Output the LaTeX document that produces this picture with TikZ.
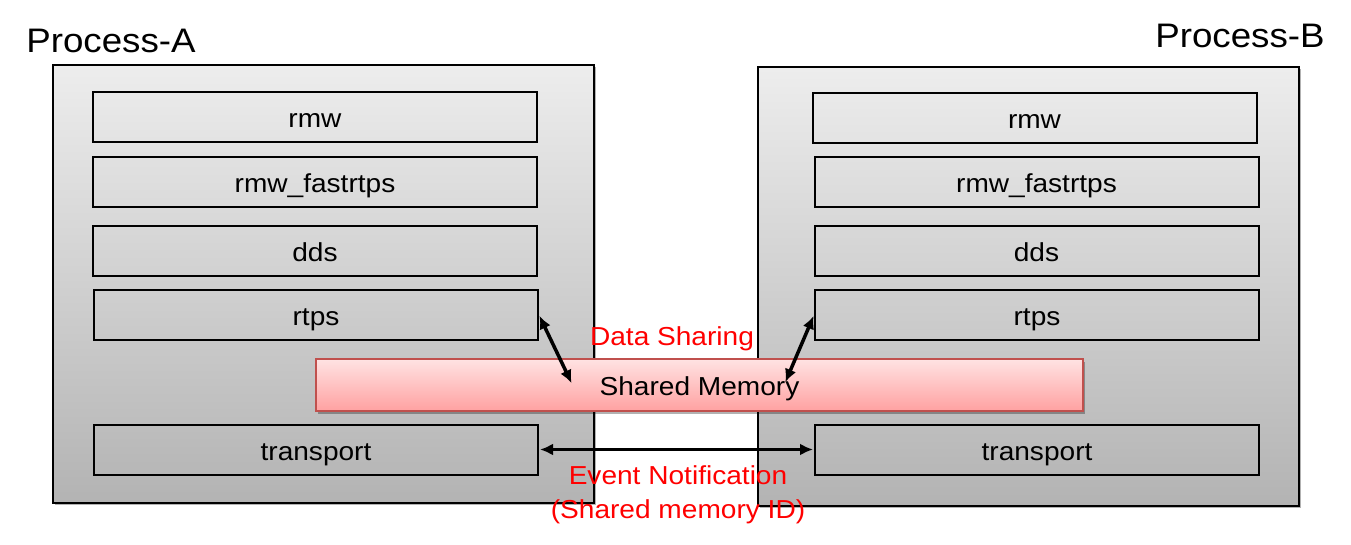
\documentclass[tikz,border=0pt]{standalone}
\usepackage{fontspec}
\setmainfont{Liberation Sans}[FakeStretch=1.08]
\usepackage{xcolor}
\usepackage{tikz}
\usetikzlibrary{arrows.meta}
\usetikzlibrary{shapes}
\usetikzlibrary{shadows}

\definecolor{proctop}{HTML}{EDEDED}
\definecolor{procbot}{HTML}{B3B3B3}
\definecolor{shmtop}{HTML}{FFE3E3}
\definecolor{shmbot}{HTML}{FFA1A1}
\definecolor{shmline}{HTML}{C0504D}

\tikzset{
    process/.style = {draw, line width = 2pt, top color = proctop, bottom color = procbot,
        minimum width = 541pt, minimum height = 438pt, inner sep = 0pt,
        drop shadow = {shadow xshift = 2pt, shadow yshift = -2pt, opacity = 0.3, fill = black}},
    layer/.style = {draw, line width = 2pt, minimum width = 444pt, minimum height = 50pt,
        inner sep = 0pt, text height = 26pt, text depth = 5pt,
        font = \fontsize{26}{31}\selectfont},
    shmbox/.style = {draw = shmline, line width = 2.5pt, top color = shmtop, bottom color = shmbot,
        minimum width = 767pt, minimum height = 52pt, inner sep = 0pt,
        text height = 26pt, text depth = 5pt, font = \fontsize{26}{31}\selectfont,
        drop shadow = {shadow xshift = 2pt, shadow yshift = -3pt, opacity = 0.3, fill = black}},
    title/.style = {anchor = base, font = \fontsize{34}{40}\selectfont},
    note/.style = {text = red, align = center, font = \fontsize{26}{34}\selectfont},
    link/.style = {{Latex[length = 13pt, width = 12pt]}-{Latex[length = 13pt, width = 12pt]},
        line width = 3.5pt, shorten < = 1pt, shorten > = 1pt}
}

\begin{document}
\begin{tikzpicture}[x = 1pt, y = -1pt]
    \useasboundingbox (0, 0) rectangle (1351, 545);

    % the two processes
    \node [process] (procA) at (323.5, 284) {};
    \node [process] (procB) at (1028.5, 286.5) {};
    \node [title] (titleA) at (111, 53) {Process-A};
    \node [title] (titleB) at (1240, 48) {Process-B};

    % layers of Process-A
    \node [layer] (rmwA) at (315, 117.5) {rmw};
    \node [layer] (fastA) at (315, 182) {rmw\_fastrtps};
    \node [layer] (ddsA) at (315, 251) {dds};
    \node [layer] (rtpsA) at (316, 315) {rtps};
    \node [layer] (transA) at (316, 449.5) {transport};

    % layers of Process-B
    \node [layer] (rmwB) at (1034.5, 118) {rmw};
    \node [layer] (fastB) at (1036.5, 182) {rmw\_fastrtps};
    \node [layer] (ddsB) at (1036.5, 251) {dds};
    \node [layer] (rtpsB) at (1037, 315) {rtps};
    \node [layer] (transB) at (1037, 449.5) {transport};

    \node [shmbox] (shm) at (699.5, 385) {Shared Memory};

    \coordinate (shmA) at (572, 384);
    \coordinate (shmB) at (785, 383);
    \draw [link] (rtpsA.east) -- (shmA);
    \draw [link] (rtpsB.west) -- (shmB);
    \draw [link] (transA.east) -- (transB.west);

    \node [note, anchor = base] (share) at (672, 345) {Data Sharing};
    \node [note, anchor = base] (event) at (678, 518) {Event Notification\\(Shared memory ID)};
\end{tikzpicture}
\end{document}
